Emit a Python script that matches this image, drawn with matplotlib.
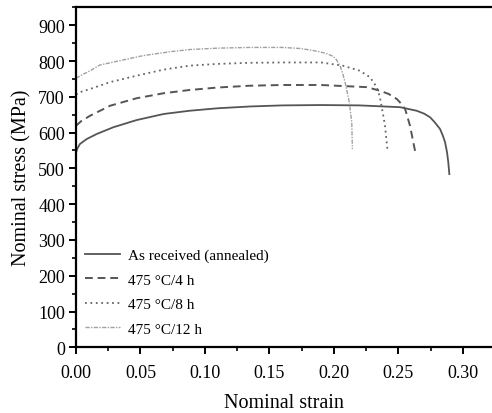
import matplotlib.pyplot as plt
from matplotlib.ticker import MultipleLocator

plt.rcParams['font.family'] = ['Liberation Serif', 'DejaVu Serif']

# as received (annealed)
strain_ar = [0.0, 0.001, 0.003, 0.0083, 0.016, 0.029, 0.047, 0.068, 0.088, 0.11, 0.135, 0.16, 0.19,
             0.22, 0.2514, 0.2643, 0.270, 0.2746, 0.278, 0.2824, 0.2845, 0.2863, 0.2878, 0.2888, 0.2896]
stress_ar = [545, 555, 568, 582, 596, 615, 635, 652, 661, 668, 673, 676, 677,
             676, 671, 661, 653, 643, 630, 610, 592, 573, 545, 517, 484]

# 475 C / 4 h
strain_4 = [0.0, 0.004, 0.0109, 0.0264, 0.047, 0.068, 0.088, 0.11, 0.135, 0.16, 0.19, 0.2255,
            0.2358, 0.2425, 0.2488, 0.252, 0.2553, 0.2591, 0.263]
stress_4 = [619, 632, 647, 675, 696, 710, 719, 726, 731, 733, 733, 727,
            717, 708, 694, 682, 666, 619, 549]

# 475 C / 8 h
strain_8 = [0.0, 0.004, 0.011, 0.0264, 0.047, 0.068, 0.088, 0.11, 0.135, 0.16, 0.19, 0.207,
            0.220, 0.228, 0.2333, 0.2355, 0.237, 0.2397, 0.2418]
stress_8 = [706, 714, 722, 741, 759, 776, 787, 792, 795, 796, 796, 787,
            773, 755, 727, 702, 675, 619, 545]

# 475 C / 12 h
strain_12 = [0.0, 0.005, 0.011, 0.0186, 0.034, 0.052, 0.073, 0.088, 0.11, 0.135, 0.16, 0.174,
             0.183, 0.189, 0.195, 0.1994, 0.202, 0.2048, 0.2068, 0.2087, 0.212, 0.2139, 0.2144]
stress_12 = [752, 762, 773, 789, 801, 815, 826, 832, 836, 838, 838, 835,
             830, 826, 820, 813, 804, 787, 766, 741, 685, 629, 554]

fig = plt.figure(figsize=(4.92, 4.14), dpi=100)
ax = fig.add_axes([0.1545, 0.1587, 0.8455, 0.822])

ax.plot(strain_ar, stress_ar, color='#555555', lw=1.3, ls='-', label='As received (annealed)')
ax.plot(strain_4, stress_4, color='#555555', lw=1.4, ls=(0, (4, 2.5)), label='475 °C/4 h')
ax.plot(strain_8, stress_8, color='#666666', lw=1.3, ls=(0, (1, 2)), label='475 °C/8 h')
ax.plot(strain_12, stress_12, color='#a0a0a0', lw=1.0, ls=(0, (3, 1, 1, 1)), label='475 °C/12 h')

ax.set_xlim(0, 0.3227)
ax.set_ylim(0, 951)
ax.xaxis.set_major_locator(MultipleLocator(0.05))
ax.xaxis.set_minor_locator(MultipleLocator(0.025))
ax.yaxis.set_major_locator(MultipleLocator(100))
ax.yaxis.set_minor_locator(MultipleLocator(50))
ax.xaxis.set_major_formatter(plt.FormatStrFormatter('%.2f'))

ax.spines['right'].set_visible(False)
for s in ['left', 'bottom', 'top']:
    ax.spines[s].set_linewidth(1.6)
ax.tick_params(which='major', direction='out', length=5, width=1.4, labelsize=13, colors='black')
ax.tick_params(which='minor', direction='out', length=3, width=1.2)
ax.tick_params(axis='x', pad=7)
ax.tick_params(axis='y', pad=3)

ax.set_xlabel('Nominal strain', fontsize=14.5, labelpad=9)
ax.set_ylabel('Nominal stress (MPa)', fontsize=14.5, labelpad=5)

ax.legend(loc='lower left', bbox_to_anchor=(-0.012, -0.006), frameon=False, fontsize=11,
          handlelength=2.3, labelspacing=0.7, handletextpad=0.5)

fig.savefig('out.png', dpi=100)
